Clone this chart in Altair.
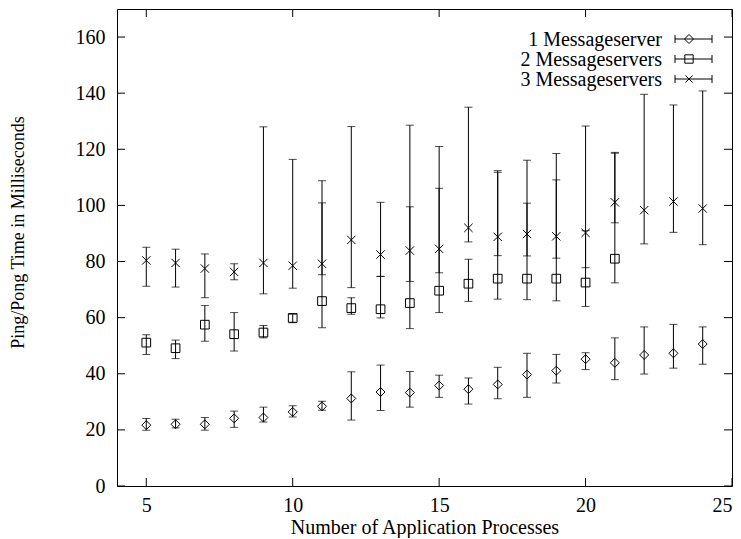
import altair as alt
import pandas as pd

# ---- data ----
series = ["1 Messageserver", "2 Messageservers", "3 Messageservers"]

s1_x = list(range(5, 25))
s1_mean = [21.7, 22.0, 22.0, 24.1, 24.4, 26.4, 28.4, 31.2, 33.5, 33.3, 35.8, 34.5, 36.2, 39.7, 41.1, 45.2, 43.9, 46.7, 47.3, 50.6]
s1_low = [19.9, 20.7, 19.9, 20.9, 22.8, 24.6, 27.0, 23.5, 26.9, 28.1, 31.6, 29.2, 31.1, 31.6, 36.7, 41.5, 37.9, 39.9, 42.0, 43.4]
s1_high = [24.1, 23.8, 24.4, 26.7, 28.1, 28.6, 30.2, 40.7, 43.1, 40.8, 39.5, 38.5, 42.3, 47.3, 46.9, 47.5, 52.8, 56.7, 57.6, 56.7]

s2_x = list(range(5, 22))
s2_mean = [51.1, 49.1, 57.5, 54.1, 54.7, 59.9, 65.9, 63.4, 63.0, 65.2, 69.6, 72.1, 73.9, 73.9, 73.9, 72.5, 81.0]
s2_low = [46.9, 45.4, 51.6, 48.1, 52.8, 58.2, 56.4, 61.2, 59.9, 56.1, 61.8, 65.8, 66.6, 66.4, 66.0, 64.0, 72.4]
s2_high = [53.9, 52.0, 64.3, 61.8, 57.2, 61.2, 100.9, 67.1, 74.7, 99.5, 106.1, 80.8, 111.8, 100.8, 109.1, 91.0, 118.6]

s3_x = list(range(5, 25))
s3_mean = [80.4, 79.5, 77.5, 76.3, 79.5, 78.5, 79.2, 87.7, 82.5, 83.9, 84.5, 92.0, 88.8, 89.8, 89.0, 90.2, 101.1, 98.3, 101.4, 98.9]
s3_low = [71.2, 70.9, 67.1, 73.5, 68.5, 70.5, 75.3, 70.7, 74.7, 72.9, 76.0, 87.0, 82.1, 82.0, 81.2, 77.8, 93.8, 86.3, 90.4, 86.0]
s3_high = [85.1, 84.4, 82.7, 79.2, 128.0, 116.4, 108.8, 128.1, 101.1, 128.6, 121.0, 135.0, 112.4, 116.1, 118.5, 128.3, 118.9, 139.6, 135.8, 140.8]

x_ticks = [5, 10, 15, 20, 25]
y_ticks = [0, 20, 40, 60, 80, 100, 120, 140, 160]

# ---- layout / style ----
W, H = 615, 477
FONT = "Liberation Serif"
cross_path = "M-1,-1L1,1M-1,1L1,-1"
shapes = ["diamond", "square", cross_path]
sizes = [81, 70, 50]

rows = []
for name, xs, m, lo, hi in [
    (series[0], s1_x, s1_mean, s1_low, s1_high),
    (series[1], s2_x, s2_mean, s2_low, s2_high),
    (series[2], s3_x, s3_mean, s3_low, s3_high),
]:
    for a, b, c, d in zip(xs, m, lo, hi):
        rows.append({"series": name, "n": a, "mean": b, "low": c, "high": d})
df = pd.DataFrame(rows)

xscale = alt.Scale(domain=[4, 25], nice=False, zero=False)
yscale = alt.Scale(domain=[0, 170], nice=False)

X = alt.X("n:Q", scale=xscale,
          axis=alt.Axis(values=x_ticks, ticks=False, domain=False, grid=False,
                        labelFont=FONT, labelFontSize=20, labelColor="black",
                        labelPadding=9, title="Number of Application Processes",
                        titleFont=FONT, titleFontSize=20, titleFontWeight="normal",
                        titleColor="black", titleY=41, titleBaseline="middle"))
Y = alt.Y("mean:Q", scale=yscale,
          axis=alt.Axis(values=y_ticks, ticks=False, domain=False, grid=False,
                        labelFont=FONT, labelFontSize=20, labelColor="black",
                        labelPadding=12, title="Ping/Pong Time in Milliseconds",
                        titleFont=FONT, titleFontSize=18, titleFontWeight="normal",
                        titleColor="black", titleX=-99, titleY=223,
                        titleAngle=270, titleBaseline="middle", titleAlign="center"))

base = alt.Chart(df)

bars = base.mark_rule(color="black", strokeWidth=1).encode(
    x=X, y=alt.Y("low:Q", scale=yscale), y2="high:Q")
cap_lo = base.mark_tick(orient="horizontal", color="black", size=8, thickness=1).encode(
    x=alt.X("n:Q", scale=xscale), y=alt.Y("low:Q", scale=yscale))
cap_hi = base.mark_tick(orient="horizontal", color="black", size=8, thickness=1).encode(
    x=alt.X("n:Q", scale=xscale), y=alt.Y("high:Q", scale=yscale))
points = base.mark_point(filled=False, color="black", strokeWidth=1, opacity=1).encode(
    x=alt.X("n:Q", scale=xscale), y=Y,
    shape=alt.Shape("series:N", scale=alt.Scale(domain=series, range=shapes), legend=None),
    size=alt.Size("series:N", scale=alt.Scale(domain=series, range=sizes), legend=None))

# inward axis ticks on all four sides
xt = alt.Chart(pd.DataFrame({"t": x_ticks}))
yt = alt.Chart(pd.DataFrame({"t": y_ticks}))
tick_bottom = xt.mark_rule(color="black").encode(
    x=alt.X("t:Q", scale=xscale), y=alt.value(H), y2=alt.value(H - 8))
tick_top = xt.mark_rule(color="black").encode(
    x=alt.X("t:Q", scale=xscale), y=alt.value(0), y2=alt.value(8))
tick_left = yt.mark_rule(color="black").encode(
    y=alt.Y("t:Q", scale=yscale), x=alt.value(0), x2=alt.value(8))
tick_right = yt.mark_rule(color="black").encode(
    y=alt.Y("t:Q", scale=yscale), x=alt.value(W - 8), x2=alt.value(W))

# legend (gnuplot style: text right-aligned, sample to its right)
legend_layers = []
leg_text_x, leg_l, leg_r, leg_sym = 545, 558, 595, 572
for i, name in enumerate(series):
    yy = 30 + i * 20
    one = alt.Chart(pd.DataFrame({"label": [name]}))
    legend_layers += [
        one.mark_text(align="right", baseline="middle", font=FONT, fontSize=20,
                      color="black", dy=1).encode(
            x=alt.value(leg_text_x), y=alt.value(yy), text="label:N"),
        one.mark_rule(color="black").encode(x=alt.value(leg_l), x2=alt.value(leg_r), y=alt.value(yy)),
        one.mark_rule(color="black").encode(x=alt.value(leg_l), y=alt.value(yy - 4), y2=alt.value(yy + 4)),
        one.mark_rule(color="black").encode(x=alt.value(leg_r), y=alt.value(yy - 4), y2=alt.value(yy + 4)),
        one.mark_point(filled=False, color="black", strokeWidth=1, opacity=1,
                       shape=shapes[i], size=sizes[i]).encode(
            x=alt.value(leg_sym), y=alt.value(yy)),
    ]

chart = alt.layer(
    bars, cap_lo, cap_hi, points,
    tick_bottom, tick_top, tick_left, tick_right,
    *legend_layers
).properties(
    width=W, height=H,
    autosize=alt.AutoSizeParams(type="none"),
    padding={"left": 109, "top": 1, "right": 1, "bottom": 52},
    background="white",
).configure_view(stroke="black", strokeWidth=1)

chart.save("out.html", embed_options={"renderer": "svg", "actions": False})
